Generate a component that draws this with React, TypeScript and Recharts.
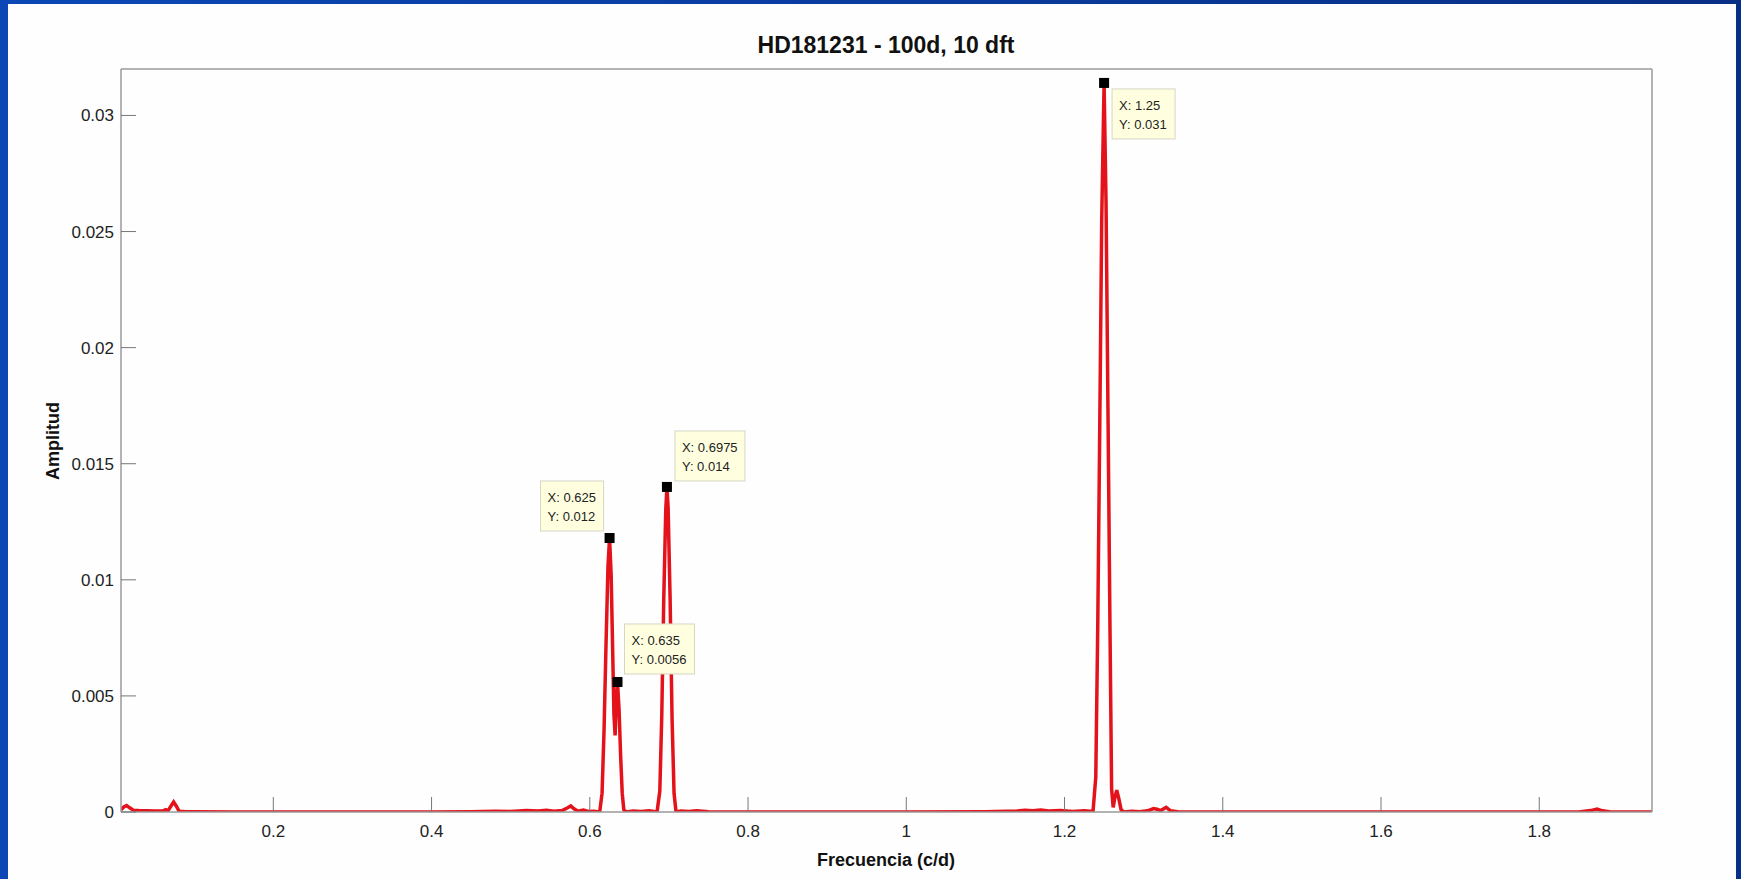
import React from 'react';
import { ComposedChart, Line, Scatter, XAxis, YAxis } from 'recharts';

// amplitude spectrum (frequency in c/d)
const freqs = [
  0.0075, 0.011, 0.0145, 0.0185, 0.023, 0.03, 0.04, 0.05, 0.06, 0.064, 0.067, 0.0705, 0.074, 0.0775, 0.081,
  0.09, 0.1, 0.15, 0.2, 0.3, 0.4, 0.45, 0.48, 0.5, 0.52, 0.535, 0.545, 0.555, 0.565, 0.572, 0.576, 0.58,
  0.585, 0.592, 0.598, 0.605, 0.6125, 0.6155, 0.618, 0.6205, 0.623, 0.625, 0.627, 0.629, 0.6305, 0.632,
  0.6335, 0.635, 0.637, 0.639, 0.641, 0.643, 0.646, 0.655, 0.665, 0.675, 0.685, 0.6885, 0.691, 0.6935,
  0.696, 0.6975, 0.699, 0.7015, 0.704, 0.7065, 0.709, 0.715, 0.725, 0.735, 0.75, 0.8, 0.9, 1.0, 1.1, 1.14,
  1.15, 1.16, 1.17, 1.18, 1.195, 1.21, 1.225, 1.236, 1.2395, 1.242, 1.2445, 1.247, 1.25, 1.2525, 1.255,
  1.2575, 1.2595, 1.2615, 1.2635, 1.266, 1.2685, 1.2715, 1.275, 1.285, 1.295, 1.305, 1.3125, 1.317, 1.3215,
  1.3285, 1.334, 1.345, 1.4, 1.5, 1.6, 1.7, 1.8, 1.85, 1.865, 1.873, 1.88, 1.89, 1.9425,
];
const amps = [
  0.0001, 0.00022, 0.00028, 0.00018, 0.00008, 0.00006, 0.00005, 0.00004, 0.00004, 0.0001, 0.00006, 0.00025, 0.00043, 0.00025, 0.00003,
  0.00001, 0.00001, 0, 0, 0, 0, 0.00001, 0.00003, 0.00002, 0.00006, 0.00004, 0.00008, 0.00003, 0.00006, 0.00018, 0.00026, 0.00014,
  0.00003, 0.00008, 0.00002, 0.00003, 0, 0.0008, 0.0035, 0.0072, 0.0106, 0.0118, 0.0102, 0.0068, 0.0042, 0.0033,
  0.0048, 0.0056, 0.0044, 0.0024, 0.0008, 0.0001, 0, 0.00004, 0.00002, 0.00005, 0, 0.0009, 0.0042, 0.0092,
  0.013, 0.014, 0.0131, 0.0092, 0.004, 0.0008, 0, 0.00004, 0.00002, 0.00005, 0.00001, 0, 0, 0, 0.00001, 0.00004,
  0.00008, 0.00005, 0.00009, 0.00004, 0.00006, 0.00002, 0.00005, 0.00002, 0.0015, 0.008, 0.0165, 0.0255, 0.0314, 0.0262, 0.017,
  0.0078, 0.001, 0.0002, 0.0006, 0.00094, 0.0006, 0.0001, 0, 0.00003, 0.00001, 0.00005, 0.00015, 0.00012, 0.00006,
  0.0002, 0.00005, 0, 0, 0, 0, 0, 0, 0, 0.00006, 0.00013, 0.00005, 0, 0,
];

const xTicks = [0.2, 0.4, 0.6, 0.8, 1, 1.2, 1.4, 1.6, 1.8];
const yTicks = [0, 0.005, 0.01, 0.015, 0.02, 0.025, 0.03];

// data tips
const tipFreqs = [1.25, 0.6975, 0.625, 0.635];
const tipAmps = [0.0314, 0.014, 0.0118, 0.0056];
const tipLabels = [
  ['X: 1.25', 'Y: 0.031'],
  ['X: 0.6975', 'Y: 0.014'],
  ['X: 0.625', 'Y: 0.012'],
  ['X: 0.635', 'Y: 0.0056'],
];

const spectrum = freqs.map((f, i) => ({ freq: f, amp: amps[i] }));
const tips = tipFreqs.map((f, i) => ({ freq: f, amp: tipAmps[i], lines: tipLabels[i], idx: i }));

// box offset from the marker, per tip
const tipPlacement = [
  { dx: 8, dy: 6 },
  { dx: 8, dy: -56 },
  { dx: -69, dy: -57 },
  { dx: 7, dy: -58 },
];

const FONT = '"Liberation Sans", Arial, Helvetica, sans-serif';
const AXIS_GRAY = '#9a9a9a';

function DataTip(props: any) {
  const { cx, cy, payload } = props;
  if (cx == null || cy == null) return null;
  const lines: string[] = payload.lines;
  const place = tipPlacement[payload.idx];
  const chars = Math.max(...lines.map((l) => l.length));
  const w = 7 + 7 * chars;
  const bx = cx + place.dx;
  const by = cy + place.dy;
  return (
    <g>
      <rect x={bx} y={by} width={w} height={50} fill="#ffffe0" stroke="#d6d6c6" strokeWidth={1} />
      {lines.map((l, i) => (
        <text key={i} x={bx + 7} y={by + 21 + i * 19} fontSize={13} fill="#222" fontFamily={FONT}>
          {l}
        </text>
      ))}
      <rect x={cx - 5} y={cy - 5} width={10} height={10} fill="#000" />
    </g>
  );
}

export default function App() {
  return (
    <div
      style={{
        position: 'fixed',
        inset: 0,
        overflow: 'hidden',
        background: 'linear-gradient(90deg, #0b48b5 0%, #0a3c9f 50%, #082f86 100%)',
        fontFamily: FONT,
      }}
    >
      <div style={{ position: 'absolute', left: 8, top: 4, width: 1728, height: 875, background: '#fefefe' }} />
      <div style={{ position: 'absolute', left: 0, top: 0 }}>
        <ComposedChart width={1741} height={879} margin={{ top: 39, right: 59, bottom: 27, left: 61 }}>
          <XAxis
            dataKey="freq"
            type="number"
            domain={[0.0075, 1.9425]}
            allowDataOverflow
            ticks={xTicks}
            height={40}
            tickSize={-15}
            tickMargin={28}
            stroke={AXIS_GRAY}
            strokeWidth={1.5}
            tickLine={{ stroke: '#777', strokeWidth: 1 }}
            tick={{ fill: '#222', fontSize: 17, fontFamily: FONT }}
          />
          <XAxis
            xAxisId="top"
            orientation="top"
            type="number"
            domain={[0.0075, 1.9425]}
            allowDataOverflow
            ticks={xTicks}
            height={30}
            tickSize={-15}
            tick={false}
            stroke={AXIS_GRAY}
            strokeWidth={1.5}
            tickLine={{ stroke: '#777', strokeWidth: 1 }}
          />
          <YAxis
            type="number"
            domain={[0, 0.032]}
            allowDataOverflow
            ticks={yTicks}
            width={60}
            tickSize={-15}
            tickMargin={22}
            stroke={AXIS_GRAY}
            strokeWidth={1.5}
            tickLine={{ stroke: '#777', strokeWidth: 1 }}
            tick={{ fill: '#222', fontSize: 17, fontFamily: FONT }}
          />
          <YAxis
            yAxisId="right"
            orientation="right"
            type="number"
            domain={[0, 0.032]}
            allowDataOverflow
            ticks={yTicks}
            width={30}
            tickSize={-15}
            tick={false}
            stroke={AXIS_GRAY}
            strokeWidth={1.5}
            tickLine={{ stroke: '#777', strokeWidth: 1 }}
          />
          <Line
            data={spectrum}
            dataKey="amp"
            type="linear"
            stroke="#e3121b"
            strokeWidth={3.5}
            dot={false}
            activeDot={false}
            isAnimationActive={false}
          />
          <Scatter data={tips} dataKey="amp" shape={DataTip} isAnimationActive={false} />
        </ComposedChart>
      </div>
      <div
        style={{
          position: 'absolute',
          left: 886,
          top: 45,
          transform: 'translate(-50%, -50%)',
          fontSize: 23,
          fontWeight: 'bold',
          color: '#111',
          whiteSpace: 'nowrap',
        }}
      >
        HD181231 - 100d, 10 dft
      </div>
      <div
        style={{
          position: 'absolute',
          left: 886,
          top: 860,
          transform: 'translate(-50%, -50%)',
          fontSize: 18,
          fontWeight: 'bold',
          color: '#111',
          whiteSpace: 'nowrap',
        }}
      >
        Frecuencia (c/d)
      </div>
      <div
        style={{
          position: 'absolute',
          left: 53,
          top: 441,
          transform: 'translate(-50%, -50%) rotate(-90deg)',
          fontSize: 18,
          fontWeight: 'bold',
          color: '#111',
          whiteSpace: 'nowrap',
        }}
      >
        Amplitud
      </div>
    </div>
  );
}
